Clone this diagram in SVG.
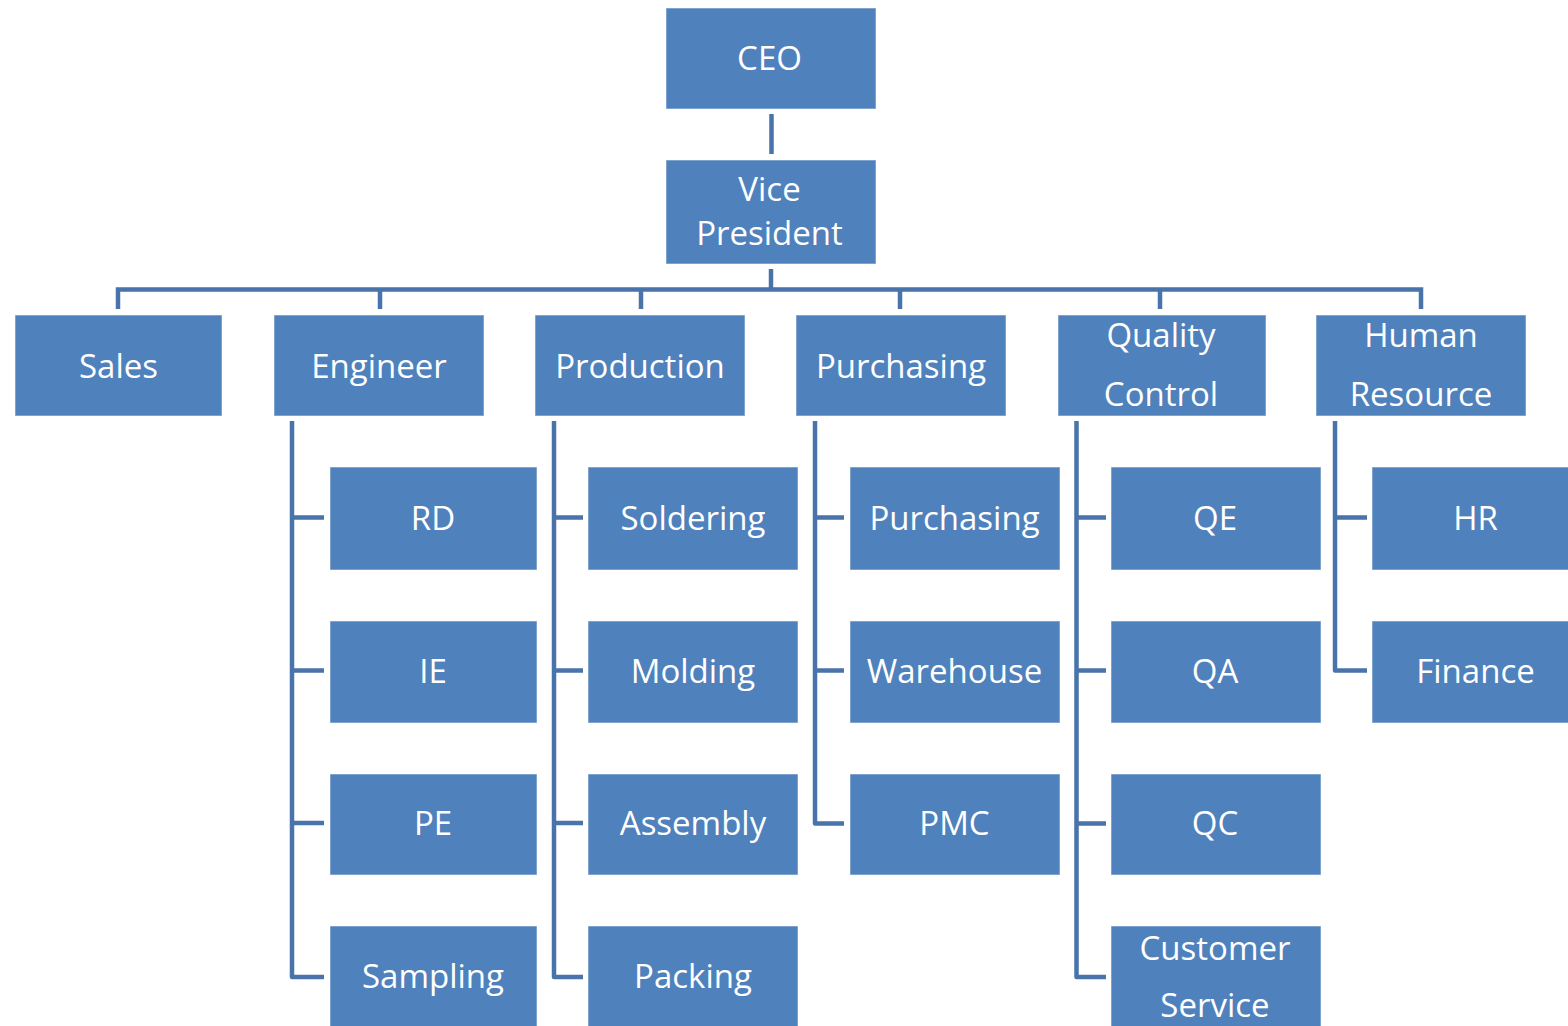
<svg xmlns="http://www.w3.org/2000/svg" width="1568" height="1026" viewBox="0 0 1568 1026">
<style>
.box{fill:#4F81BD;stroke:#ffffff;stroke-opacity:0.45;stroke-width:1.2}
.t{font-family:"Open Sans","Noto Sans",sans-serif;font-size:33px;fill:#ffffff;text-anchor:middle}
.c{fill:none;stroke:#4873AB;stroke-width:4.5;stroke-linejoin:round}
</style>
<rect width="1568" height="1026" fill="#ffffff"/>
<g id="connectors">
<path class="c" d="M771.5,114 V154"/>
<path class="c" d="M771,269 V289.5"/>
<path class="c" style="stroke-linejoin:miter" d="M118,309 V289.5 H1421 V309"/>
<path class="c" d="M380,289.5 V309 M641,289.5 V309 M900,289.5 V309 M1160,289.5 V309"/>
<path class="c" d="M292,421 V977 H324 M292,517.5 H324 M292,670.5 H324 M292,823 H324"/>
<path class="c" d="M554,421 V977 H583 M554,517.5 H583 M554,670.5 H583 M554,823 H583"/>
<path class="c" d="M815,421 V823.5 H844 M815,517.5 H844 M815,670.5 H844"/>
<path class="c" d="M1076.5,421 V977 H1106 M1076.5,517.5 H1106 M1076.5,670.5 H1106 M1076.5,823.5 H1106"/>
<path class="c" d="M1335,421 V670.5 H1367 M1335,517.5 H1367"/>
</g>
<g id="ceo"><rect class="box" x="666" y="8" width="210" height="101"/><text class="t" x="769.5" y="70">CEO</text></g>
<g id="vp"><rect class="box" x="666" y="160" width="210" height="104"/><text class="t" x="769.5" y="201">Vice</text><text class="t" x="769.5" y="245">President</text></g>
<g id="sales"><rect class="box" x="15" y="315" width="207" height="101"/><text class="t" x="118.5" y="378">Sales</text></g>
<g id="engineer"><rect class="box" x="274" y="315" width="210" height="101"/><text class="t" x="379" y="378">Engineer</text></g>
<g id="production"><rect class="box" x="535" y="315" width="210" height="101"/><text class="t" x="640" y="378">Production</text></g>
<g id="purchasing"><rect class="box" x="796" y="315" width="210" height="101"/><text class="t" x="901" y="378">Purchasing</text></g>
<g id="quality-control"><rect class="box" x="1058" y="315" width="208" height="101"/><text class="t" x="1161" y="347">Quality</text><text class="t" x="1161" y="406">Control</text></g>
<g id="human-resource"><rect class="box" x="1316" y="315" width="210" height="101"/><text class="t" x="1421" y="347">Human</text><text class="t" x="1421" y="406">Resource</text></g>
<g id="rd"><rect class="box" x="330" y="467" width="207" height="103"/><text class="t" x="433" y="530">RD</text></g>
<g id="ie"><rect class="box" x="330" y="621" width="207" height="102"/><text class="t" x="433" y="683">IE</text></g>
<g id="pe"><rect class="box" x="330" y="774" width="207" height="101"/><text class="t" x="433" y="835">PE</text></g>
<g id="sampling"><rect class="box" x="330" y="926" width="207" height="102"/><text class="t" x="433" y="988">Sampling</text></g>
<g id="soldering"><rect class="box" x="588" y="467" width="210" height="103"/><text class="t" x="693" y="530">Soldering</text></g>
<g id="molding"><rect class="box" x="588" y="621" width="210" height="102"/><text class="t" x="693" y="683">Molding</text></g>
<g id="assembly"><rect class="box" x="588" y="774" width="210" height="101"/><text class="t" x="693" y="835">Assembly</text></g>
<g id="packing"><rect class="box" x="588" y="926" width="210" height="102"/><text class="t" x="693" y="988">Packing</text></g>
<g id="purchasing-2"><rect class="box" x="850" y="467" width="210" height="103"/><text class="t" x="954.5" y="530">Purchasing</text></g>
<g id="warehouse"><rect class="box" x="850" y="621" width="210" height="102"/><text class="t" x="954.5" y="683">Warehouse</text></g>
<g id="pmc"><rect class="box" x="850" y="774" width="210" height="101"/><text class="t" x="954.5" y="835">PMC</text></g>
<g id="qe"><rect class="box" x="1111" y="467" width="210" height="103"/><text class="t" x="1215" y="530">QE</text></g>
<g id="qa"><rect class="box" x="1111" y="621" width="210" height="102"/><text class="t" x="1215" y="683">QA</text></g>
<g id="qc"><rect class="box" x="1111" y="774" width="210" height="101"/><text class="t" x="1215" y="835">QC</text></g>
<g id="customer-service"><rect class="box" x="1111" y="926" width="210" height="102"/><text class="t" x="1215" y="960">Customer</text><text class="t" x="1215" y="1017">Service</text></g>
<g id="hr"><rect class="box" x="1372" y="467" width="207" height="103"/><text class="t" x="1475.5" y="530">HR</text></g>
<g id="finance"><rect class="box" x="1372" y="621" width="207" height="102"/><text class="t" x="1475.5" y="683">Finance</text></g>
</svg>
